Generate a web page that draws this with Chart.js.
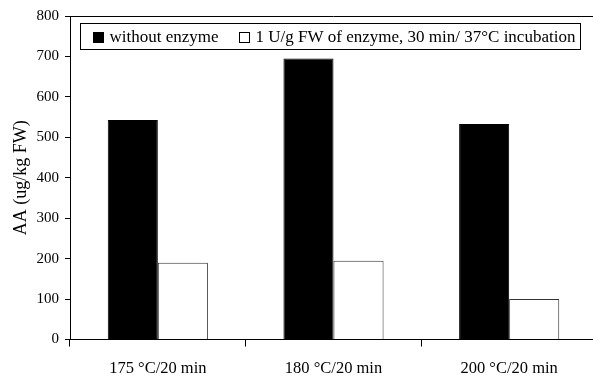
<!DOCTYPE html>
<html>
<head>
<meta charset="utf-8">
<script src="https://cdn.jsdelivr.net/npm/chart.js@4/dist/chart.umd.min.js"></script>
<style>
  html, body { margin: 0; padding: 0; background: #fff; overflow: hidden; }
  #wrap { width: 600px; height: 378px; }
</style>
</head>
<body>
<div id="wrap"><canvas id="c" width="600" height="378"></canvas></div>
<script>
const categories = ['175 °C/20 min', '180 °C/20 min', '200 °C/20 min'];
const withoutEnzyme = [543, 695, 533];
const withEnzyme = [190, 195, 100];
const yTicks = [0, 100, 200, 300, 400, 500, 600, 700, 800];

const SERIF = '"Liberation Serif", "Times New Roman", serif';
const LEGEND_FONT = '17px ' + SERIF;

// Frame line along the top of the plot area, plus a boxed legend inside the plot
const framePlugin = {
  id: 'framePlugin',
  afterDraw(chart) {
    const ctx = chart.ctx;
    const a = chart.chartArea;
    ctx.save();
    ctx.strokeStyle = '#000';
    ctx.lineWidth = 1;
    ctx.beginPath();
    ctx.moveTo(a.left, Math.round(a.top) + 0.5);
    ctx.lineTo(a.right, Math.round(a.top) + 0.5);
    ctx.stroke();

    // legend
    ctx.font = LEGEND_FONT;
    ctx.textBaseline = 'middle';
    ctx.textAlign = 'left';
    const left = a.left + 10.5;
    const top = Math.round(a.top + 7) + 0.5;
    const h = 26;
    const cy = top + h / 2;
    let x = left + 12;
    const sets = chart.data.datasets;
    sets.forEach((ds, i) => {
      ctx.fillStyle = ds.backgroundColor;
      ctx.fillRect(Math.round(x), Math.round(cy - 5), 10, 10);
      ctx.strokeStyle = '#000';
      ctx.strokeRect(Math.round(x) + 0.5, Math.round(cy - 5) + 0.5, 10, 10);
      x += 17;
      ctx.fillStyle = '#000';
      ctx.fillText(ds.label, x, cy + 1);
      x += ctx.measureText(ds.label).width;
      if (i < sets.length - 1) x += 20;
    });
    ctx.strokeStyle = '#000';
    ctx.strokeRect(left, top, Math.round(x + 5 - left), h);
    ctx.restore();
  }
};

new Chart(document.getElementById('c'), {
  type: 'bar',
  data: {
    labels: categories,
    datasets: [
      {
        label: 'without enzyme',
        data: withoutEnzyme,
        backgroundColor: '#000',
        borderColor: '#000',
        borderWidth: 1
      },
      {
        label: '1 U/g FW of enzyme, 30 min/ 37°C incubation',
        data: withEnzyme,
        backgroundColor: '#fff',
        borderColor: '#333',
        borderWidth: 1
      }
    ]
  },
  options: {
    responsive: false,
    animation: false,
    devicePixelRatio: 1,
    layout: { padding: { top: 16, right: 3, left: 0, bottom: 0 } },
    datasets: {
      bar: { categoryPercentage: 0.57, barPercentage: 1.0 }
    },
    plugins: {
      legend: { display: false },
      tooltip: { enabled: false }
    },
    scales: {
      x: {
        offset: true,
        grid: {
          display: true,
          drawOnChartArea: false,
          drawTicks: true,
          tickLength: 7,
          offset: true,
          color: '#000'
        },
        border: { display: true, color: '#000', width: 1 },
        ticks: {
          font: { family: SERIF, size: 16.5 },
          color: '#000',
          padding: 12,
          maxRotation: 0
        },
        afterFit(scale) { scale.height = 38.5; }
      },
      y: {
        min: 0,
        max: 800,
        afterBuildTicks(scale) { scale.ticks = yTicks.map(v => ({ value: v })); },
        grid: {
          display: true,
          drawOnChartArea: false,
          drawTicks: true,
          tickLength: 5,
          color: '#000'
        },
        border: { display: true, color: '#000', width: 1 },
        ticks: {
          font: { family: SERIF, size: 15 },
          color: '#000',
          padding: 6
        },
        title: {
          display: true,
          text: 'AA (ug/kg FW)',
          font: { family: SERIF, size: 18 },
          color: '#000',
          padding: { top: 10, bottom: 0 }
        },
        afterFit(scale) { scale.width = 70; }
      }
    }
  },
  plugins: [framePlugin]
});
</script>
</body>
</html>
